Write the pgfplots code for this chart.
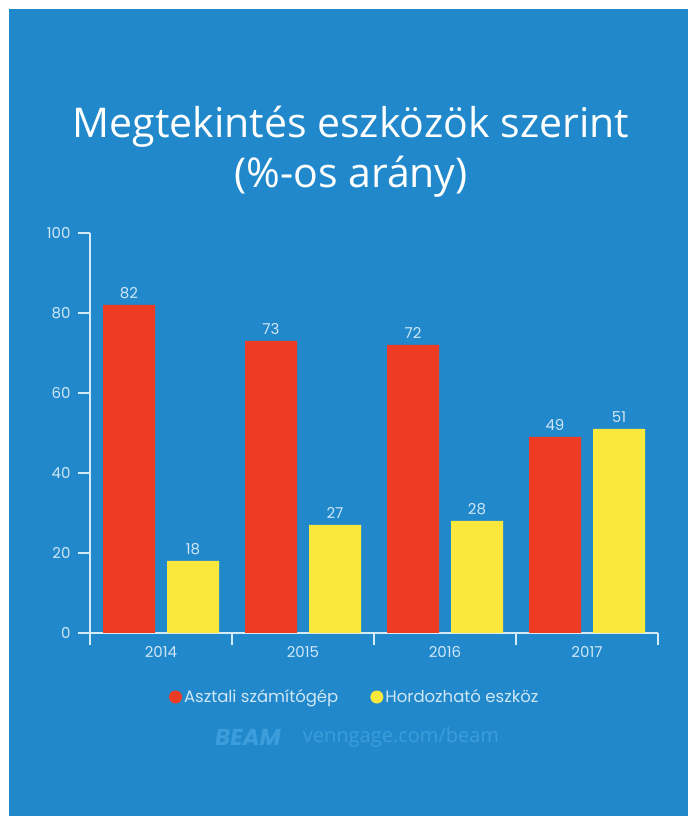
\documentclass[border=0pt]{standalone}
\usepackage{pgfplots}
\pgfplotsset{compat=1.18}
\usepackage{fontspec}
\setmainfont{Poppins}
\newfontfamily\titlefont{Open Sans}
\definecolor{bg}{HTML}{2189CB}
\definecolor{redbar}{HTML}{EE3B24}
\definecolor{yelbar}{HTML}{FAE83C}
\definecolor{axcol}{HTML}{D5EAF7}
\definecolor{lbl}{HTML}{CFE6F6}
\definecolor{wm}{HTML}{3C9DDA}
\begin{document}
\begin{tikzpicture}[x=1pt,y=1pt]
\fill[white] (0,0) rectangle (688,816);
\fill[bg] (9,0) rectangle (688,807);
\node[anchor=base, text=white, inner sep=0pt, font=\titlefont\fontsize{41}{48}\selectfont] at (351,678) {Megtekintés eszközök szerint};
\node[anchor=base, text=white, inner sep=0pt, font=\titlefont\fontsize{41}{48}\selectfont] at (351,628) {(\%-os arány)};
\begin{axis}[
  scale only axis, width=568pt, height=400pt,
  at={(90pt,183pt)}, anchor=south west,
  xmin=-0.5, xmax=3.5, ymin=0, ymax=100,
  ybar=12pt, bar width=52pt,
  axis x line=bottom, axis y line=left,
  axis line style={axcol, line width=1.2pt, -},
  ytick={0,20,...,100},
  xtick={-0.5,0.5,1.5,2.5,3.5}, xticklabels={,,,,,},
  extra x ticks={0,1,2,3}, extra x tick labels={2014,2015,2016,2017},
  extra x tick style={major tick length=0pt, xticklabel style={yshift=-10pt}},
  tick align=outside, major tick length=12pt,
  tick style={axcol, line width=1.2pt},
  ticklabel style={text=lbl, font=\fontsize{15}{17}\selectfont},
  yticklabel style={xshift=-4pt},
  /pgf/number format/assume math mode=true,
  nodes near coords,
  nodes near coords style={text=lbl, font=\fontsize{15}{17}\selectfont, yshift=3pt},
  legend style={draw=none, fill=none, text=lbl, font=\fontsize{16.5}{19}\selectfont,
    at={(0.466,-0.16)}, anchor=center, legend columns=2,
    /tikz/every even column/.append style={column sep=30pt}},
  legend image code/.code={\fill[#1, draw=none] (-3pt,0pt) circle (6.5pt);},
]
\addplot[fill=redbar, draw=none] coordinates {(0,82) (1,73) (2,72) (3,49)};
\addplot[fill=yelbar, draw=none] coordinates {(0,18) (1,27) (2,28) (3,51)};
\legend{Asztali számítógép, Hordozható eszköz}
\end{axis}
\node[text=wm, font=\bfseries\itshape\fontsize{23}{25}\selectfont] at (248,79) {BEAM};
\node[text=wm, font=\titlefont\fontsize{20}{24}\selectfont] at (401,79) {venngage.com/beam};
\end{tikzpicture}
\end{document}
